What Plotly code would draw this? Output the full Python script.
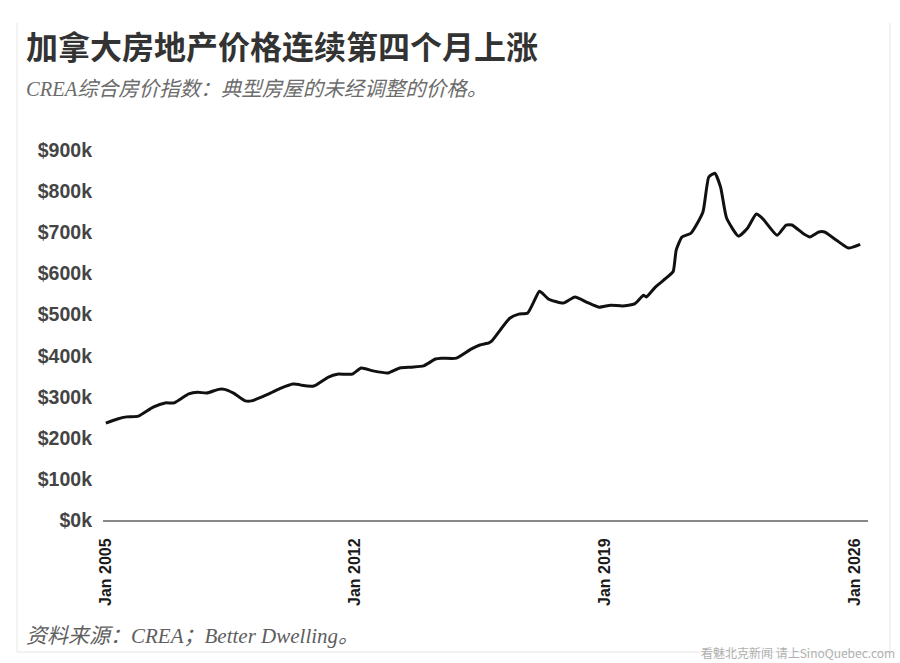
import plotly.graph_objects as go

# ---- data ----
dates = ["2005-01","2005-05","2005-08","2005-12","2006-05","2006-09","2006-12","2007-05","2007-08","2007-11",
         "2008-03","2008-05","2008-08","2008-12","2009-02","2009-06","2009-09","2009-12","2010-04","2010-06",
         "2010-07","2010-11","2011-04","2011-07","2011-12","2012-03","2012-07","2012-12","2013-04","2013-08",
         "2013-12","2014-04","2014-06","2014-11","2015-04","2015-07","2015-10","2015-11","2016-05","2016-08",
         "2016-11","2017-03","2017-04","2017-06","2017-11","2018-03","2018-07","2018-11","2019-03","2019-07",
         "2019-11","2020-02","2020-03","2020-06","2020-10","2020-12","2021-01","2021-03","2021-06","2021-10",
         "2021-12","2022-02","2022-04","2022-06","2022-10","2023-01","2023-04","2023-06","2023-11","2024-02",
         "2024-04","2024-08","2024-10","2025-01","2025-03","2025-07","2025-11","2026-03"]
values_k = [236,246,251,253,275,285,285,307,311,309,
            318,318,309,290,290,301,311,321,331,330,
            328,326,348,355,355,370,363,358,370,372,
            375,392,394,394,416,426,431,436,491,501,
            504,557,552,538,528,543,530,518,523,521,
            526,547,543,567,591,605,657,689,698,749,
            835,844,810,735,691,710,745,735,693,718,
            718,696,689,701,701,681,662,671]
values = [v * 1000 for v in values_k]

ytick_vals = [0, 100000, 200000, 300000, 400000, 500000, 600000, 700000, 800000, 900000]
ytick_text = ["$0k", "$100k", "$200k", "$300k", "$400k", "$500k", "$600k", "$700k", "$800k", "$900k"]
xtick_vals = ["2005-01-01", "2012-01-01", "2019-01-01", "2026-01-01"]
xtick_text = ["Jan 2005", "Jan 2012", "Jan 2019", "Jan 2026"]

title = "加拿大房地产价格连续第四个月上涨"
subtitle = "CREA综合房价指数：典型房屋的未经调整的价格。"
source = "资料来源：CREA；Better Dwelling。"
watermark = "看魅北克新闻 请上SinoQuebec.com"

# ---- layout geometry (pixels) ----
W, H = 900, 663
L, R, T, B = 103, 32, 140, 143
PW, PH = W - L - R, H - T - B

def px(xp):
    return (xp - L) / PW

def py(yp):
    return (H - B - yp) / PH

fig = go.Figure()
fig.add_trace(go.Scatter(
    x=dates, y=values, mode="lines",
    line=dict(color="#111111", width=3, shape="spline", smoothing=0.5),
    hoverinfo="skip", showlegend=False,
))

fig.update_layout(
    width=W, height=H,
    margin=dict(l=L, r=R, t=T, b=B, pad=0),
    paper_bgcolor="white", plot_bgcolor="white",
    xaxis=dict(
        type="date",
        range=["2004-12-03", "2026-05-20"],
        tickvals=xtick_vals, ticktext=xtick_text,
        tickangle=-90,
        tickfont=dict(family="Liberation Sans", size=16, color="#1a1a1a", weight="bold"),
        showgrid=False, zeroline=False,
        showline=True, linecolor="#888888", linewidth=2,
        ticks="", ticklabelstandoff=10,
        fixedrange=True,
    ),
    yaxis=dict(
        range=[0, 925000],
        tickvals=ytick_vals, ticktext=ytick_text,
        tickfont=dict(family="Liberation Sans", size=19.5, color="#444444", weight="bold"),
        showgrid=False, zeroline=False, showline=False,
        ticks="", ticklabelstandoff=10,
        fixedrange=True,
    ),
)

anns = [
    dict(text=title, x=px(24), y=py(45), xanchor="left", yanchor="middle",
         font=dict(family="Noto Sans CJK SC", size=32, color="#333333", weight="bold")),
    dict(text="<i>" + subtitle + "</i>", x=px(24), y=py(89), xanchor="left", yanchor="middle",
         font=dict(family="Liberation Serif, Noto Sans CJK SC", size=20.5, color="#6c6c6c")),
    dict(text="<i>" + source + "</i>", x=px(24), y=py(636), xanchor="left", yanchor="middle",
         font=dict(family="Liberation Serif, Noto Sans CJK SC", size=21, color="#5e5e5e")),
    dict(text=watermark, x=px(897), y=py(652), xanchor="right", yanchor="middle",
         font=dict(family="Noto Sans CJK SC", size=12, color="#b0b0b0")),
]
for a in anns:
    fig.add_annotation(xref="paper", yref="paper", showarrow=False, **a)

border = "#e6e6e6"
fig.add_shape(type="line", xref="paper", yref="paper", x0=px(17), x1=px(17), y0=py(23), y1=py(652),
              line=dict(color=border, width=1), layer="below")
fig.add_shape(type="line", xref="paper", yref="paper", x0=px(890), x1=px(890), y0=py(23), y1=py(652),
              line=dict(color=border, width=1), layer="below")
fig.add_shape(type="line", xref="paper", yref="paper", x0=px(17), x1=px(890), y0=py(652), y1=py(652),
              line=dict(color=border, width=1), layer="below")

fig.write_html("out.html")
